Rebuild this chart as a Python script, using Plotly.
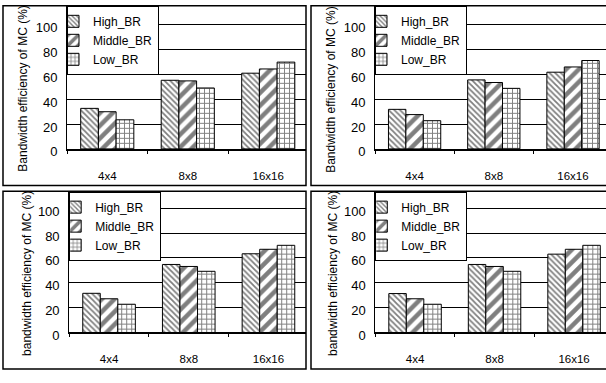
import plotly.graph_objects as go

categories = ["4x4", "8x8", "16x16"]
series_names = ["High_BR", "Middle_BR", "Low_BR"]

# panel a (top-left)
a_high = [32.6, 55.2, 60.9]
a_mid = [29.9, 54.7, 64.3]
a_low = [23.4, 49.0, 69.8]
# panel b (top-right)
b_high = [31.8, 55.5, 61.7]
b_mid = [27.6, 53.4, 65.9]
b_low = [22.7, 48.7, 71.1]
# panel c (bottom-left)
c_high = [31.5, 54.7, 63.3]
c_mid = [27.1, 53.1, 66.9]
c_low = [22.7, 49.2, 70.1]
# panel d (bottom-right)
d_high = [31.3, 54.7, 63.0]
d_mid = [27.1, 53.1, 66.9]
d_low = [22.7, 49.2, 70.1]

y_titles = ["Bandwidth efficiency of MC (%)", "Bandwidth efficiency of MC (%)",
            "bandwidth efficiency of MC (%)", "bandwidth efficiency of MC (%)"]
y_ticks = [0, 20, 40, 60, 80, 100]

W, H = 606, 383
FONT = "Liberation Sans, Arial, sans-serif"

patterns = [
    dict(shape="\\", size=4, solidity=0.45, fgcolor="black", bgcolor="white"),
    dict(shape="/", size=9, solidity=0.5, fgcolor="black", bgcolor="white"),
    dict(shape="+", size=5, solidity=0.35, fgcolor="black", bgcolor="white"),
]

panels = [
    dict(data=[a_high, a_mid, a_low], xdom=(67, 306), ytop=6, yzero=153.3, cat=80.5),
    dict(data=[b_high, b_mid, b_low], xdom=(375, 606), ytop=6, yzero=153.3, cat=79.2),
    dict(data=[c_high, c_mid, c_low], xdom=(69.2, 306), ytop=197.3, yzero=342.3, cat=79.7),
    dict(data=[d_high, d_mid, d_low], xdom=(375.3, 606), ytop=197.3, yzero=342.3, cat=79.5),
]
PXU = 1.28  # px per unit

fig = go.Figure()
layout = dict(width=W, height=H, margin=dict(l=0, r=0, t=0, b=0),
              paper_bgcolor="white", plot_bgcolor="white",
              bargap=0.34, bargroupgap=0, barmode="group",
              font=dict(family=FONT, color="black"), shapes=[], annotations=[])

for i, p in enumerate(panels):
    k = "" if i == 0 else str(i + 1)
    for j, name in enumerate(series_names):
        fig.add_trace(go.Bar(
            x=categories, y=p["data"][j], name=name,
            xaxis="x" + k, yaxis="y" + k,
            legend="legend" + k,
            marker=dict(color="white", line=dict(color="black", width=1),
                        pattern=patterns[j]),
        ))
    x0, x1 = p["xdom"]
    ytop_val = (p["yzero"] - p["ytop"]) / PXU
    xr_end = (x1 - x0) / p["cat"] - 0.5
    layout["xaxis" + k] = dict(
        domain=[x0 / W, min(1, x1 / W)], anchor="y" + k,
        range=[-0.5, xr_end], showline=True, linecolor="black", linewidth=2,
        ticks="outside", tickson="boundaries", ticklen=3, tickcolor="black",
        tickfont=dict(size=11.5, family=FONT), ticklabelstandoff=15,
        showgrid=False, fixedrange=True,
    )
    layout["yaxis" + k] = dict(
        domain=[1 - p["yzero"] / H, 1 - p["ytop"] / H], anchor="x" + k,
        range=[0, ytop_val], tickvals=y_ticks, showgrid=True, gridcolor="black",
        gridwidth=1, zeroline=False, showline=True, linecolor="black", linewidth=1,
        ticks="", tickfont=dict(size=13, family=FONT), ticklabelstandoff=6,
        ticklabelshift=3, fixedrange=True,
    )
    layout["legend" + k] = dict(
        x=x0 / W, y=1 - p["ytop"] / H, xanchor="left", yanchor="top",
        bgcolor="white", bordercolor="black", borderwidth=1,
        font=dict(size=12, family=FONT), tracegroupgap=0, indentation=-15,
    )

# panel borders
boxes = [(3, 6, 306, 191), (311, 6, 610, 191), (3, 197, 306, 380), (311, 197, 610, 380)]
for (bx0, by0, bx1, by1) in boxes:
    layout["shapes"].append(dict(type="rect", xref="paper", yref="paper",
                                 x0=bx0 / W, x1=bx1 / W, y0=1 - by1 / H, y1=1 - by0 / H,
                                 line=dict(color="black", width=1.5), layer="above"))

# y-axis titles
title_pos = [(23.3, 91), (331.5, 92), (27, 282), (333, 282)]
for (tx, ty), t in zip(title_pos, y_titles):
    layout["annotations"].append(dict(text=t, xref="paper", yref="paper",
                                      x=tx / W, y=1 - ty / H, showarrow=False,
                                      textangle=-90, font=dict(size=12, family=FONT),
                                      xanchor="center", yanchor="middle"))

fig.update_layout(**layout)
fig.write_html("out.html")
